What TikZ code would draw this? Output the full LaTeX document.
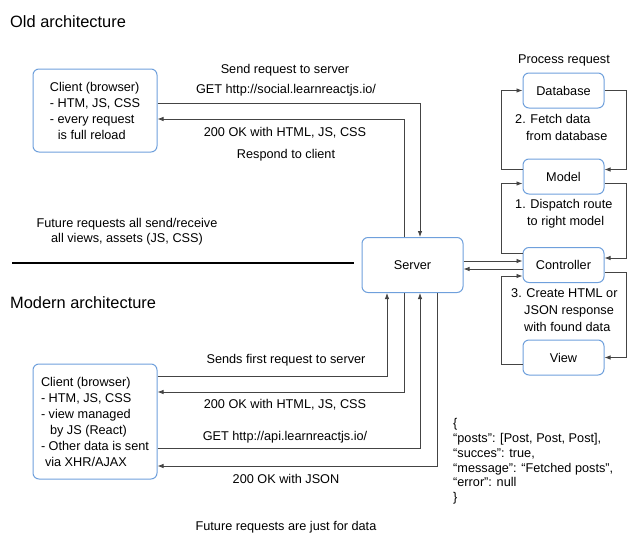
\documentclass[tikz,border=0pt]{standalone}
\usepackage{fontspec}
\setmainfont{Liberation Sans}
\usetikzlibrary{arrows.meta}
\definecolor{azulcaixa}{HTML}{6FA0DC}
\definecolor{cinzalinha}{HTML}{444444}

\begin{document}
\begin{tikzpicture}[x=1pt, y=-1pt,
    font=\fontsize{12.7}{16}\selectfont,
    caixa/.style={draw=azulcaixa, line width=1pt, rounded corners=6pt, minimum width=81pt, minimum height=35pt, inner sep=0pt},
    seta/.style={draw=cinzalinha, line width=0.8pt, -{Latex[length=6pt,width=4.5pt]}},
    rotulo/.style={inner sep=0pt}]

\useasboundingbox (0,0) rectangle (640,541);

% titulos
\node[rotulo, anchor=west, font=\fontsize{16.4}{19}\selectfont] (tituloantigo) at (10,22) {Old architecture};
\node[rotulo, anchor=west, font=\fontsize{16.4}{19}\selectfont] (titulomoderno) at (10,303) {Modern architecture};

% caixas
\node[caixa, minimum width=124pt, minimum height=83pt, align=left] (clienteantigo) at (95,110.5)
  {Client (browser)\\- HTM, JS, CSS\\- every request\\\hspace{8pt}is full reload};
\node[caixa, minimum width=124pt, minimum height=115pt, align=left] (clientemoderno) at (95,421.5)
  {Client (browser)\\- HTM, JS, CSS\\- view managed\\\hspace{9pt}by JS (React)\\- Other data is sent\\\hspace{4pt}via XHR/AJAX};
\node[caixa, minimum width=101pt, minimum height=55pt] (server) at (412.5,265) {Server};

\node[caixa] (database) at (563.5,90.5) {Database};
\node[caixa] (model) at (563.5,176.5) {Model};
\node[caixa] (controller) at (563.5,265) {Controller};
\node[caixa] (view) at (563.5,357.5) {View};

% linha divisoria
\coordinate (divisao-ini) at (12,263);
\coordinate (divisao-fim) at (354,263);
\draw[black, line width=1.6pt] (divisao-ini) -- (divisao-fim);

% setas arquitetura antiga
\draw[seta] ([yshift=7.5pt]clienteantigo.east) -| ([xshift=7.5pt]server.north);
\draw[seta] ([xshift=-8.5pt]server.north) |- ([yshift=-8.5pt]clienteantigo.east);

% setas arquitetura moderna
\draw[seta] ([yshift=45.5pt]clientemoderno.east) -| ([xshift=-25.5pt]server.south);
\draw[seta] ([xshift=-8.5pt]server.south) |- ([yshift=29.5pt]clientemoderno.east);
\draw[seta] ([yshift=-26.5pt]clientemoderno.east) -| ([xshift=7.5pt]server.south);
\draw[seta] ([xshift=24.5pt]server.south) |- ([yshift=-44.5pt]clientemoderno.east);

% server e controller
\draw[seta] ([yshift=4pt]server.east) -- ([yshift=4pt]controller.west);
\draw[seta] ([yshift=-4pt]controller.west) -- ([yshift=-4pt]server.east);

% lacos do lado direito
\draw[seta] ([yshift=7pt]model.west) -- ++(-21,0) |- (database.west);
\draw[seta] (database.east) -- ++(22,0) |- ([yshift=7pt]model.east);
\draw[seta] ([yshift=12pt]controller.west) -- ++(-21,0) |- ([yshift=-7pt]model.west);
\draw[seta] ([yshift=-7pt]model.east) -- ++(22,0) |- ([yshift=7pt]controller.east);
\draw[seta] ([yshift=-7pt]view.west) -- ++(-21,0) |- ([yshift=-11pt]controller.west);
\draw[seta] ([yshift=-7pt]controller.east) -- ++(22,0) |- (view.east);

% rotulos
\node[rotulo] (enviar) at (285,70) {Send request to server};
\node[rotulo] (getsocial) at (286,90) {GET http://social.learnreactjs.io/};
\node[rotulo] (okantigo) at (285,133) {200 OK with HTML, JS, CSS};
\node[rotulo] (responder) at (286,155) {Respond to client};
\node[rotulo, align=center, font=\fontsize{12.7}{15}\selectfont] (futuroantigo) at (127,231.5)
  {Future requests all send/receive\\all views, assets (JS, CSS)};

\node[rotulo] (processo) at (564,60) {Process request};
\node[rotulo, anchor=west, align=left, font=\fontsize{12.7}{17}\selectfont] (buscar) at (515,127.5)
  {2. Fetch data\\\hspace{11pt}from database};
\node[rotulo, anchor=west, align=left, font=\fontsize{12.7}{17}\selectfont] (despachar) at (515,213.5)
  {1. Dispatch route\\\hspace{12pt}to right model};
\node[rotulo, anchor=west, align=left, font=\fontsize{12.7}{17}\selectfont] (criar) at (511,310)
  {3. Create HTML or\\\hspace{13pt}JSON response\\\hspace{13pt}with found data};

\node[rotulo] (primeiro) at (286,360) {Sends first request to server};
\node[rotulo] (okmoderno) at (285,405) {200 OK with HTML, JS, CSS};
\node[rotulo] (getapi) at (285,437) {GET http://api.learnreactjs.io/};
\node[rotulo] (okjson) at (286,479) {200 OK with JSON};
\node[rotulo] (futuromoderno) at (286,527) {Future requests are just for data};

\node[rotulo, anchor=west, align=left, font=\fontsize{12.7}{14.8}\selectfont] (json) at (453,461.5)
  {\{\\“posts”: [Post, Post, Post],\\“succes”: true,\\“message”: “Fetched posts”,\\“error”: null\\\}};

\end{tikzpicture}
\end{document}
